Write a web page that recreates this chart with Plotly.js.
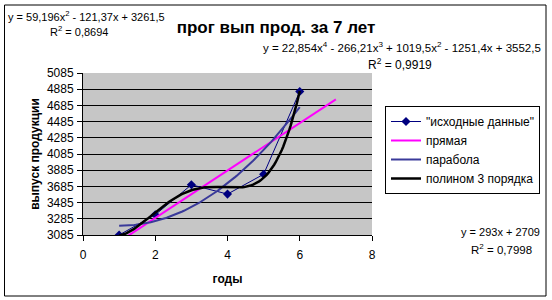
<!DOCTYPE html>
<html><head><meta charset="utf-8">
<script src="https://cdn.plot.ly/plotly-3.0.1.min.js"></script>
<style>html,body{margin:0;padding:0;background:#fff}#c{width:552px;height:300px}</style>
</head><body><div id="c"></div>
<script>
// Data
const years = [1, 2, 3, 4, 5, 6];
const production = [3085, 3335, 3705, 3590, 3835, 4857];
const yTicks = [3085, 3285, 3485, 3685, 3885, 4085, 4285, 4485, 4685, 4885, 5085];
const xTicks = [0, 2, 4, 6, 8];
// Trendline coefficients as displayed on the chart (highest power first)
const linCoef = [293, 2709];
const parCoef = [59.196, -121.37, 3261.5];
const polyCoef = [22.854, -266.21, 1019.5, -1251.4, 3552.5];
const linSpan = [1, 7];
const parSpan = [1, 6];
const polySpan = [1, 6];
const seriesNames = ['"исходные данные"', 'прямая', 'парабола', 'полином 3 порядка'];

function evalPoly(c, x){ return c.reduce((a, k) => a * x + k, 0); }
function trend(c, span){
  const xs = [], ys = [];
  const n = 120;
  for (let i = 0; i <= n; i++){
    const x = span[0] + (span[1] - span[0]) * i / n;
    xs.push(x); ys.push(evalPoly(c, x));
  }
  return {x: xs, y: ys};
}
const L = trend(linCoef, linSpan), P = trend(parCoef, parSpan), Q = trend(polyCoef, polySpan);

const F = 'Liberation Sans, Arial, sans-serif';
const traces = [
  {x: years, y: production, name: seriesNames[0], mode: 'lines+markers',
   line: {color: '#000080', width: 1}, marker: {symbol: 'diamond', size: 7, color: '#000080'}},
  {x: L.x, y: L.y, name: seriesNames[1], mode: 'lines', line: {color: '#FF00FF', width: 2}},
  {x: P.x, y: P.y, name: seriesNames[2], mode: 'lines', line: {color: '#3a3a9a', width: 2}},
  {x: Q.x, y: Q.y, name: seriesNames[3], mode: 'lines', line: {color: '#000000', width: 2.5}}
];

// plot area geometry in px for placing paper annotations
const pl = 83, pr = 372, pt = 73, pb = 235;
const px = v => (v - pl) / (pr - pl);
const py = v => (pb - v) / (pb - pt);
const ann = (text, x, y, xa, sz) => ({text, x: px(x), y: py(y), xref: 'paper', yref: 'paper',
  xanchor: xa || 'center', yanchor: 'middle', showarrow: false, font: {family: F, size: sz || 11, color: '#000'}});

const layout = {
  width: 552, height: 300,
  margin: {l: pl, r: 552 - pr, t: pt, b: 300 - pb},
  paper_bgcolor: '#ffffff', plot_bgcolor: '#c6c6c6',
  font: {family: F, size: 12, color: '#000'},
  title: {text: '<b>прог вып прод. за 7 лет</b>', font: {family: F, size: 17, color: '#000'},
    x: 276 / 552, xanchor: 'center', y: 1 - 27 / 300, yanchor: 'middle'},
  showlegend: true,
  legend: {x: px(385), y: py(106), xanchor: 'left', yanchor: 'top', bgcolor: '#fff',
    bordercolor: '#000', borderwidth: 1, font: {family: F, size: 12, color: '#000'},
    tracegroupgap: 0, itemwidth: 30},
  xaxis: {range: [0, 8], tickvals: xTicks, ticktext: xTicks.map(String), showgrid: false, zeroline: false,
    showline: true, linecolor: '#000', linewidth: 1, ticks: 'outside', ticklen: 5, tickcolor: '#000',
    ticklabelstandoff: 4, tickfont: {family: F, size: 12},
    title: {text: '<b>годы</b>', font: {family: F, size: 12}, standoff: 13}},
  yaxis: {range: [3085, 5085], tickvals: yTicks, ticktext: yTicks.map(String), showgrid: true,
    gridcolor: '#000', gridwidth: 1, zeroline: false,
    showline: true, linecolor: '#000', linewidth: 1, ticks: 'outside', ticklen: 5, tickcolor: '#000',
    ticklabelstandoff: 1, tickfont: {family: F, size: 12},
    title: {text: '<b>выпуск продукции</b>', font: {family: F, size: 12}, standoff: 4}},
  annotations: [
    ann('y = 59,196x<sup>2</sup> - 121,37x + 3261,5', 6, 16, 'left'),
    ann('R<sup>2</sup> = 0,8694', 78.5, 31),
    ann('y = 22,854x<sup>4</sup> - 266,21x<sup>3</sup> + 1019,5x<sup>2</sup> - 1251,4x + 3552,5', 543, 47, 'right', 11.5),
    ann('R<sup>2</sup> = 0,9919', 400, 64, 'center', 12),
    ann('y = 293x + 2709', 542, 232, 'right'),
    ann('R<sup>2</sup> = 0,7998', 501, 249, 'center', 11.5)
  ],
  shapes: [{type: 'rect', xref: 'paper', yref: 'paper', x0: px(4.5), x1: px(546), y0: py(296), y1: py(5),
    line: {color: '#000', width: 1}, fillcolor: 'rgba(0,0,0,0)', layer: 'below'}]
};
Plotly.newPlot('c', traces, layout, {displayModeBar: false, staticPlot: true});
</script></body></html>
